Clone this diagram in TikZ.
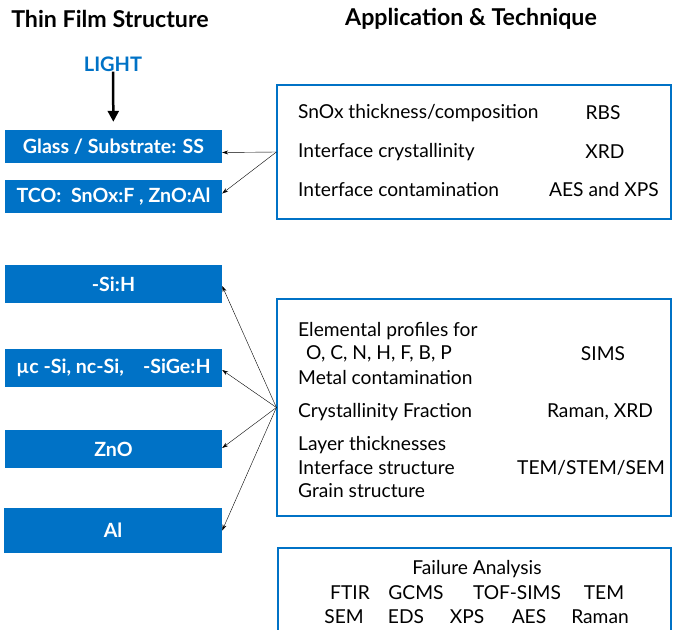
\documentclass[tikz,border=0pt]{standalone}
\usepackage{fontspec}
\setmainfont{Lato}
\usepackage{xcolor}
\usetikzlibrary{arrows.meta,positioning}
\definecolor{layerblue}{RGB}{0,114,198}

\begin{document}
\begin{tikzpicture}[
  x=1pt,y=-1pt,
  layer/.style={fill=layerblue, minimum width=217pt, minimum height=34pt,
    inner sep=0pt, text=white, font=\fontsize{19.6}{22}\selectfont\bfseries},
  panel/.style={draw=layerblue, line width=1.2pt, inner sep=0pt},
  item/.style={anchor=west, inner sep=0pt, font=\fontsize{19.2}{22}\selectfont},
  tech/.style={inner sep=0pt, font=\fontsize{19.2}{22}\selectfont},
  head/.style={inner sep=0pt, font=\fontsize{23.2}{26}\selectfont\bfseries},
  link/.style={-{Stealth[length=6pt,width=4pt]}, thin}
]
\useasboundingbox (0,0) rectangle (673,630);

% headings
\node[head] (hleft) at (110,19) {Thin Film Structure};
\node[head] (hright) at (471,19) {Application \& Technique};

% layer stack
\node[font=\fontsize{20}{23}\selectfont\bfseries, text=layerblue, inner sep=0pt] (light) at (113,64) {LIGHT};
\node[layer, minimum height=33pt] (glass) at (113.5,146.5) {Glass / Substrate: SS};
\node[layer, minimum height=33pt] (tco) at (113.5,196.5) {TCO:\ \ SnOx:F , ZnO:Al};
\node[layer, minimum height=38pt] (asi) at (113.5,284) {-Si:H};
\node[layer, minimum height=38pt] (muc) at (113.5,368) {µc -Si, nc-Si,\ \ \ \ -SiGe:H};
\node[layer, minimum height=38pt] (zno) at (113.5,449) {ZnO};
\node[layer, minimum height=45pt, minimum width=218pt] (al) at (113,530.5) {Al};

\draw[-{Triangle[length=11pt,width=11pt]}, line width=2.5pt, shorten >=8pt] (light) -- (glass);

% technique panels
\node[panel, minimum width=394pt, minimum height=134pt] (tcobox) at (474,152) {};
\node[panel, minimum width=394pt, minimum height=217pt] (absbox) at (474,407.5) {};
\node[panel, minimum width=393pt, minimum height=100pt] (fabox) at (474.5,598) {};

% panel 1
\node[item] (snox) at (298,113) {SnOx thickness/composition};
\node[item] (icry) at (298,152) {Interface crystallinity};
\node[item] (icon) at (298,190) {Interface contamination};
\node[tech] (rbs) at (603,113) {RBS};
\node[tech] (xrd) at (605,152) {XRD};
\node[tech] (aes) at (604,190) {AES and XPS};

% panel 2
\node[item] (elem) at (298,331) {Elemental profiles for};
\node[item] (ocn) at (306,354) {O, C, N, H, F, B, P};
\node[item] (metal) at (298,377) {Metal contamination};
\node[item] (cfrac) at (298,412) {Crystallinity Fraction};
\node[item] (layer) at (298,445) {Layer thicknesses};
\node[item] (istr) at (298,468) {Interface structure};
\node[item] (grain) at (298,491) {Grain structure};
\node[tech] (sims) at (603,354) {SIMS};
\node[tech] (raman) at (600,412) {Raman, XRD};
\node[tech] (tem) at (591,468) {TEM/STEM/SEM};

% panel 3
\node[tech] (fa) at (477,569) {Failure Analysis};
\node[tech] (ftir) at (350,593) {FTIR};
\node[tech] (gcms) at (416,593) {GCMS};
\node[tech] (tof) at (517,593) {TOF-SIMS};
\node[tech] (tem2) at (604,593) {TEM};
\node[tech] (sem) at (344,617) {SEM};
\node[tech] (eds) at (406,617) {EDS};
\node[tech] (xps) at (467,617) {XPS};
\node[tech] (aes2) at (529,617) {AES};
\node[tech] (raman2) at (600,617) {Raman};

% links
\draw[link] (tcobox.west) -- ([yshift=-6pt]glass.east);
\draw[link] (tcobox.west) -- ([yshift=3pt]tco.east);
\draw[link] (absbox.west) -- ([yshift=-2pt]asi.east);
\draw[link] (absbox.west) -- ([yshift=-2pt]muc.east);
\draw[link] (absbox.west) -- ([yshift=1pt]zno.east);
\draw[link] (absbox.west) -- (al.east);
\end{tikzpicture}
\end{document}
